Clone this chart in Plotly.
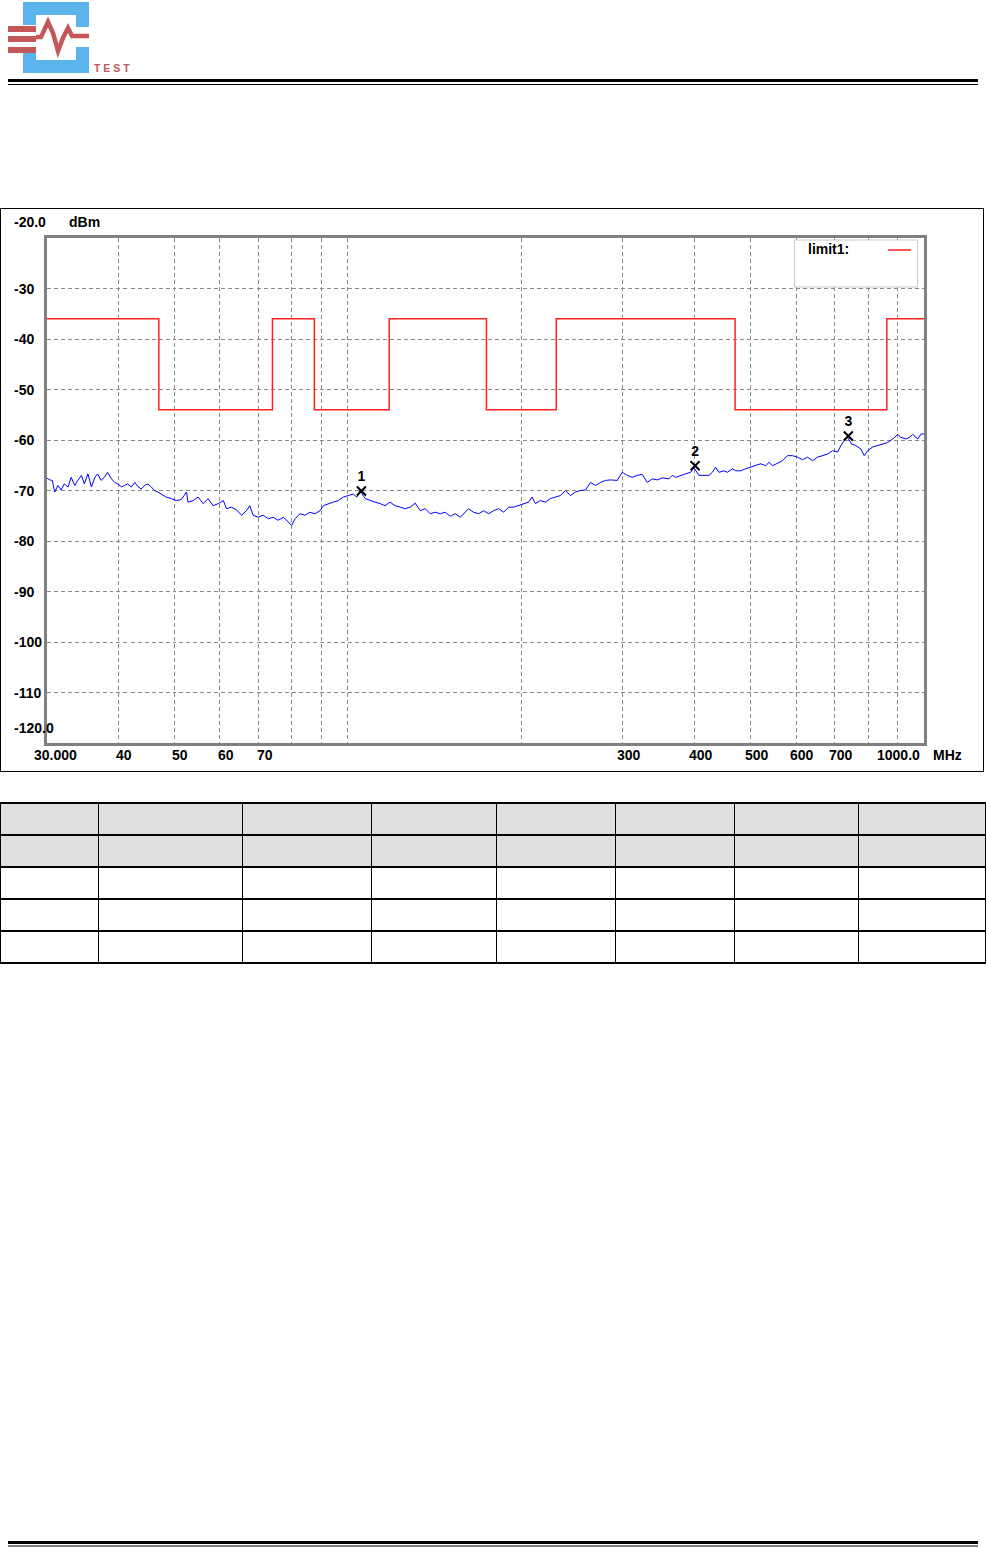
"""Spurious emission scan (30 MHz - 1 GHz) with limit line, Plotly."""

import numpy as np
import plotly.graph_objects as go

# ---- data ----
trace_freq = [
    30.0, 30.4, 30.7, 31.0, 31.4, 31.8, 32.2, 32.7, 33.1, 33.6, 34.0, 34.5, 34.9, 35.4,
    35.9, 36.4, 36.8, 37.3, 37.8, 38.3, 38.9, 39.4, 39.9, 40.5, 41.0, 41.5, 42.1, 42.7,
    43.2, 43.8, 44.4, 45.0, 45.6, 46.2, 46.8, 47.5, 48.4, 49.4, 50.4, 51.4, 52.5, 52.8,
    53.9, 55.0, 56.1, 57.2, 58.4, 59.6, 60.8, 61.6, 62.8, 64.1, 65.4, 66.7, 67.6, 68.5,
    69.9, 71.3, 72.8, 74.2, 75.7, 77.3, 78.8, 79.9, 81.0, 82.6, 84.3, 86.0, 87.7, 89.5,
    90.7, 92.5, 94.4, 96.3, 98.2, 100.2, 102.2, 103.7, 105.0, 107.2, 109.3,
    111.5, 113.8, 116.1, 118.4, 120.8, 123.3, 125.8, 128.3, 130.9, 133.6, 136.3, 139.0,
    141.8, 144.7, 147.6, 150.6, 153.6, 156.8, 159.9, 162.0, 165.3, 168.7, 172.1, 175.6,
    179.1, 182.7, 186.4, 190.2, 194.0, 198.0, 202.0, 206.0, 208.9, 211.6, 215.9, 220.3,
    224.7, 229.3, 233.9, 238.7, 243.5, 248.4, 253.4, 258.6, 263.8, 269.1, 274.6, 280.1,
    285.8, 293.5, 299.4, 305.4, 311.6, 317.9, 324.3, 330.9, 337.6, 344.4, 351.4, 360.8,
    365.7, 370.6, 378.1, 385.7, 393.5, 398.8, 406.8, 415.1, 423.5, 429.2, 434.9, 440.7,
    449.6, 455.8, 465.0, 471.2, 480.7, 490.4, 500.4, 510.5, 520.8, 531.3, 538.4, 545.8,
    556.8, 568.1, 579.5, 591.3, 603.2, 615.4, 627.9, 640.6, 653.5, 666.7, 680.2, 694.0,
    708.0, 717.4, 727.0, 736.9, 748.8, 761.8, 777.2, 787.6, 798.4, 814.5, 831.0, 847.8,
    864.9, 882.4, 900.3, 912.2, 930.7, 943.1, 956.0, 975.3, 988.3, 1000.0,
]
trace_level = [
    -67.5, -67.9, -68.0, -70.3, -69.0, -69.9, -68.7, -69.3, -67.4, -69.0, -68.0, -67.0, -68.7, -66.7,
    -69.3, -67.4, -66.7, -68.0, -67.4, -66.4, -67.7, -68.4, -68.7, -69.3, -69.0, -68.7, -69.3, -68.4,
    -69.2, -69.7, -69.0, -68.7, -69.3, -70.0, -70.3, -70.7, -71.3, -71.6, -72.0, -71.8, -70.3, -72.3,
    -72.0, -71.3, -72.6, -71.6, -73.0, -72.6, -72.0, -73.6, -73.3, -73.8, -74.9, -74.0, -73.0, -74.9,
    -75.3, -74.9, -75.6, -75.3, -75.9, -75.3, -76.3, -76.9, -75.6, -74.6, -74.9, -74.3, -74.6, -74.0,
    -73.0, -72.6, -72.3, -72.0, -71.3, -71.0, -70.7, -71.3, -70.0, -71.6, -72.0,
    -72.3, -72.6, -73.0, -72.3, -73.0, -73.3, -73.6, -73.3, -72.5, -74.0, -73.6, -74.6,
    -74.3, -74.6, -74.3, -75.1, -74.6, -75.3, -74.3, -73.6, -74.3, -74.6, -74.0, -74.6,
    -74.0, -73.6, -74.3, -73.3, -73.3, -73.0, -72.6, -72.3, -71.3, -72.6, -72.0, -72.3,
    -71.6, -71.3, -71.0, -70.0, -71.0, -70.3, -70.0, -69.9, -68.4, -69.0, -68.4, -68.0,
    -67.9, -68.0, -66.4, -67.0, -67.4, -67.0, -66.8, -68.4, -67.7, -67.9, -67.5, -67.7,
    -67.0, -67.4, -67.0, -66.7, -66.4, -65.5, -67.0, -67.0, -67.0, -66.4, -65.4, -66.4,
    -66.1, -66.4, -65.7, -66.1, -66.1, -65.7, -65.4, -65.1, -64.7, -65.1, -64.4, -65.1,
    -64.6, -64.1, -63.1, -63.1, -63.4, -63.9, -63.4, -64.1, -63.4, -63.1, -62.8, -62.1,
    -62.4, -61.1, -60.1, -59.5, -60.8, -61.1, -61.8, -63.1, -62.1, -61.4, -61.1, -60.8,
    -60.5, -59.8, -58.9, -59.5, -59.8, -59.5, -58.9, -59.8, -58.8, -58.8,
]

limit_freq = [30, 47, 74, 87.5, 118, 174, 230, 470, 862, 1000]
limit_level = [-36, -54, -36, -54, -36, -54, -36, -54, -36, -36]

marker_freq = [105.6, 400.6, 739.0]
marker_level = [-70.1, -65.1, -59.2]
marker_names = ['1', '2', '3']

x_grid = [40, 50, 60, 70, 80, 90, 100, 200, 300, 400, 500, 600, 700, 800, 900]
y_grid = [-30, -40, -50, -60, -70, -80, -90, -100, -110]
x_label_vals = [30, 40, 50, 60, 70, 300, 400, 500, 600, 700, 1000]
x_label_text = ['30.000', '40', '50', '60', '70', '300', '400', '500', '600', '700', '1000.0']
y_label_vals = [-20, -30, -40, -50, -60, -70, -80, -90, -100, -110, -120]
y_label_text = ['-20.0', '-30', '-40', '-50', '-60', '-70', '-80', '-90', '-100', '-110', '-120.0']

table_col_widths = [98, 144, 129, 125, 119, 119, 124, 127]
table_row_fills = ['#e0e0e0', 'white', 'white', 'white']

# ---- page geometry (pixels -> paper) ----
W, H = 987, 1547


def px(x):
    return x / W


def py(y):
    return 1 - y / H


FONT = 'Liberation Sans, Arial, sans-serif'
GRID = '#8a8a8a'
RED = '#ff2020'
LOGO_BLUE = '#5bb5ea'
LOGO_RED = '#c45858'

fig = go.Figure()

fig.add_trace(go.Scatter(
    x=limit_freq, y=limit_level, mode='lines', line_shape='hv',
    line=dict(color=RED, width=1.5), name='limit1', hoverinfo='skip'
))
fig.add_trace(go.Scatter(
    x=trace_freq, y=trace_level, mode='lines',
    line=dict(color='#0000ff', width=1), name='trace'
))
fig.add_trace(go.Scatter(
    x=marker_freq, y=marker_level, mode='markers+text', text=marker_names,
    textposition='top center',
    textfont=dict(family=FONT, size=14, color='black', weight='bold'),
    marker=dict(symbol='x-thin', size=9, color='black', line=dict(width=2, color='black'))
))

fig.add_trace(go.Table(
    domain=dict(x=[0.0005, 0.9985], y=[py(966), py(803)]),
    columnwidth=table_col_widths,
    header=dict(values=[''] * 8, height=32, fill_color='#e0e0e0',
                line=dict(color='black', width=1.5)),
    cells=dict(values=[[''] * 4 for _ in table_col_widths], height=32,
               fill=dict(color=[table_row_fills] * 8),
               line=dict(color='black', width=1.5)),
))

fig.update_xaxes(
    type='log', range=[np.log10(30), 3], domain=[px(46.5), px(924)],
    tickmode='array', tickvals=x_grid, showticklabels=False, ticks='',
    showgrid=True, gridcolor=GRID, gridwidth=1, griddash='4px,3px',
    showline=True, mirror=True, linecolor='#808080', linewidth=2.5, zeroline=False
)
fig.update_yaxes(
    range=[-120, -20], domain=[py(743), py(238)],
    tickmode='array', tickvals=y_grid, showticklabels=False, ticks='',
    showgrid=True, gridcolor=GRID, gridwidth=1, griddash='4px,3px',
    showline=True, mirror=True, linecolor='#808080', linewidth=2.5, zeroline=False
)

tick_font = dict(family=FONT, size=14, color='black', weight='bold')

# y tick labels
for val, txt in zip(y_label_vals, y_label_text):
    shift = 0
    if val == -20:
        shift = 16
    elif val == -120:
        shift = 15
    fig.add_annotation(x=px(12), xref='paper', y=val, yref='y', text=txt,
                       xanchor='left', yanchor='middle', yshift=shift,
                       showarrow=False, font=tick_font)
fig.add_annotation(x=px(84), xref='paper', y=-20, yref='y', text='dBm',
                   xanchor='center', yanchor='middle', yshift=16,
                   showarrow=False, font=tick_font)

# x tick labels
for val, txt in zip(x_label_vals, x_label_text):
    anchor, shift = 'center', 6
    if val == 30:
        shift = 9
    elif val == 1000:
        anchor, shift = 'right', -2
    fig.add_annotation(x=np.log10(val), xref='x', y=-120, yref='y', text=txt,
                       xanchor=anchor, yanchor='middle', xshift=shift, yshift=-12,
                       showarrow=False, font=tick_font)
fig.add_annotation(x=px(947), xref='paper', y=-120, yref='y', text='MHz',
                   xanchor='center', yanchor='middle', yshift=-12,
                   showarrow=False, font=tick_font)

shapes = []
# outer chart frame
shapes.append(dict(type='rect', xref='paper', yref='paper',
                   x0=px(0.5), x1=px(983.5), y0=py(771.5), y1=py(208.5),
                   line=dict(color='black', width=1)))
# legend box
shapes.append(dict(type='rect', xref='paper', yref='paper', layer='above',
                   x0=px(794.5), x1=px(917.5), y0=py(287), y1=py(240),
                   line=dict(color='#c8c8c8', width=1), fillcolor='white'))
shapes.append(dict(type='line', xref='paper', yref='paper', layer='above',
                   x0=px(888), x1=px(911), y0=py(250), y1=py(250),
                   line=dict(color=RED, width=1.5)))

# header / footer double rules
for y_thick, y_thin in [(80.5, 84.5), (1542.5, 1546)]:
    shapes.append(dict(type='line', xref='paper', yref='paper',
                       x0=px(8), x1=px(978), y0=py(y_thick), y1=py(y_thick),
                       line=dict(color='black', width=3)))
    shapes.append(dict(type='line', xref='paper', yref='paper',
                       x0=px(8), x1=px(978), y0=py(y_thin), y1=py(y_thin),
                       line=dict(color='black', width=1.2)))

# logo: blue brackets
logo_blue_rects = [
    (23, 2, 89, 15),    # top bar
    (23, 2, 36, 25),    # top-left leg
    (76, 2, 89, 27),    # top-right leg
    (23, 60, 89, 73),   # bottom bar
    (23, 53, 36, 73),   # bottom-left leg
    (76, 47, 89, 73),   # bottom-right leg
]
for x0, y0, x1, y1 in logo_blue_rects:
    shapes.append(dict(type='rect', xref='paper', yref='paper',
                       x0=px(x0), x1=px(x1), y0=py(y1), y1=py(y0),
                       line=dict(width=0), fillcolor=LOGO_BLUE))
# logo: red bars
for y0, y1 in [(26, 32), (36, 42), (47, 53)]:
    shapes.append(dict(type='rect', xref='paper', yref='paper',
                       x0=px(8), x1=px(36), y0=py(y1), y1=py(y0),
                       line=dict(width=0), fillcolor=LOGO_RED))
# logo: red wave
wave = [(36, 37), (41, 37), (48, 22), (53, 33), (58, 51), (63, 38), (68, 28), (72, 36), (89, 36)]
path = 'M ' + ' L '.join(f'{px(x):.5f},{py(y):.5f}' for x, y in wave)
shapes.append(dict(type='path', xref='paper', yref='paper', path=path,
                   line=dict(color=LOGO_RED, width=4.5)))

fig.add_annotation(x=px(92), y=py(68), xref='paper', yref='paper', text='T E S T',
                   xanchor='left', yanchor='middle', showarrow=False,
                   font=dict(family=FONT, size=10.5, color=LOGO_RED, weight='bold'))
fig.add_annotation(x=px(806), y=py(249), xref='paper', yref='paper', text='limit1:',
                   xanchor='left', yanchor='middle', showarrow=False, font=tick_font)

fig.update_layout(
    width=W, height=H,
    margin=dict(l=0, r=0, t=0, b=0),
    paper_bgcolor='white', plot_bgcolor='white',
    showlegend=False,
    shapes=shapes,
)

# the page body has a default 8px margin; drop it so the figure fills the window
fig.write_html("out.html", config={'displayModeBar': False},
               post_script="document.body.style.margin='0';")
